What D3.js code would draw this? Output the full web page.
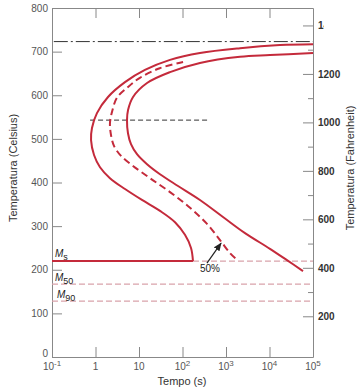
<!DOCTYPE html>
<html><head><meta charset="utf-8">
<script src="https://cdn.jsdelivr.net/npm/d3@7"></script>
<style>body{margin:0;background:#fff}svg{display:block}</style>
</head><body>
<svg id="c" width="358" height="388"></svg>
<script>
// ---- data ----
const timeTicks = [0.1, 1, 10, 100, 1000, 10000, 100000];
const timeTickLabels = [["10","-1"],["1",""],["10",""],["10","2"],["10","3"],["10","4"],["10","5"]];
const tempTicksC = [0,100,200,300,400,500,600,700,800];
const tempTicksF = [200,300,400,500,600,700,800,900,1000,1100,1200,1300,1400];
const tempTicksFLabels = ["200","","400","","600","","800","","1000","","1200","","1400"];
// [time (s), temperature (°C)]
const startCurve = [[100000,717],[17400,715],[2100,708],[252,697],[51.6,681],[13.7,658],[4.76,630],[1.94,596],[1.08,559],[0.83,525],[0.79,497],[0.925,463],[1.27,435],[2.15,410],[4.77,385],[11.7,360],[30.4,335],[67.3,309],[114,280],[157,250],[174,220]];
const finishCurve = [[100000,697],[10250,692],[2100,688],[252,674],[51.6,653],[15.3,628],[7.3,596],[5.6,566],[5.3,543],[5.58,513],[6.55,488],[9.0,465],[15.3,442],[30.4,419],[78.9,392],[252,360],[853,321],[2735,284],[10250,248],[25200,222],[58900,197]];
const halfCurve = [[103,676],[30,662],[10.5,640],[5.6,619],[3.1,594],[2.4,562],[2.15,536],[2.27,509],[2.66,484],[3.86,461],[7.28,438],[17.9,410],[51.6,378],[149,342],[366,305],[728,268],[1240,238],[1700,225]];
const A1 = 723;           // eutectoid line
const bainiteNose = 543;  // dashed reference line
const bainiteNoseRange = [0.75, 385];
const Ms = 220, M50 = 167, M90 = 128;
const MsEnd = 174;        // time where Ms solid line stops
const arrow50 = {from:[365,215], to:[770,261], label:[428,195], text:"50%"};

// ---- chart ----
const svg = d3.select("#c");
const L=52, R=313, T=8, B=357;
const x = d3.scaleLog().domain([0.1,1e5]).range([L,R]);
const y = d3.scaleLinear().domain([0,800]).range([B,T]);
const yF = d3.scaleLinear().domain([32,1472]).range([B,T]);
const font = "'Liberation Sans', Arial, sans-serif";
const red = "#c42a3b", pink = "#d9a3ab", axisCol = "#888";

const defs = svg.append("defs");
defs.append("marker").attr("id","ah").attr("viewBox","0 0 10 10")
  .attr("refX",9).attr("refY",5).attr("markerWidth",7).attr("markerHeight",7).attr("orient","auto")
  .append("path").attr("d","M0,1 L10,5 L0,9 Z").attr("fill","#222");
defs.append("clipPath").attr("id","clipRT").append("rect").attr("x",0).attr("y",-10).attr("width",11).attr("height",20);

// Axes
const gL = svg.append("g").attr("transform",`translate(${L},0)`)
  .call(d3.axisLeft(y).tickValues(tempTicksC).tickSize(-10).tickPadding(4).tickSizeOuter(0));
const gB = svg.append("g").attr("transform",`translate(0,${B})`)
  .call(d3.axisBottom(x).tickValues(timeTicks.slice(1,-1)).tickSize(-10).tickSizeOuter(0).tickFormat(""));
const gT = svg.append("g").attr("transform",`translate(0,${T})`)
  .call(d3.axisTop(x).tickValues(timeTicks.slice(1,-1)).tickSize(-10).tickSizeOuter(0).tickFormat(""));
const gR = svg.append("g").attr("transform",`translate(${R},0)`)
  .call(d3.axisRight(yF).tickValues(tempTicksF).tickSize(-10).tickPadding(5).tickSizeOuter(0)
    .tickFormat((d,i)=>tempTicksFLabels[i]));
gR.selectAll(".tick").filter((d,i)=>tempTicksFLabels[i]==="").select("line").attr("x2",-5);
[gL,gB,gT,gR].forEach(g=>{
  g.selectAll("path.domain").attr("stroke",axisCol);
  g.selectAll(".tick line").attr("stroke",axisCol);
});
gL.selectAll("text").attr("font-family",font).attr("font-size",10).attr("fill","#555");
gL.selectAll(".tick").filter(d=>d===0).select("text").attr("dy","-0.1em");
gR.selectAll("text").attr("font-family",font).attr("font-size",10).attr("fill","#333").attr("font-weight","bold");
gR.selectAll(".tick").filter(d=>d===1400).select("text").attr("clip-path","url(#clipRT)");

// x tick labels with superscripts
const xl = svg.append("g").attr("font-family",font).attr("font-size",10).attr("fill","#555");
timeTicks.forEach((t,i)=>{
  const [b,e] = timeTickLabels[i];
  const tx = xl.append("text").attr("x",x(t)).attr("y",B+13).attr("text-anchor","middle");
  tx.append("tspan").text(b);
  if(e) tx.append("tspan").attr("dy",-4).attr("font-size",8).text(e);
});

// axis titles
svg.append("text").attr("x",182).attr("y",385).attr("text-anchor","middle")
  .attr("font-family",font).attr("font-size",11).attr("fill","#333").text("Tempo (s)");
svg.append("text").attr("transform","translate(17,168) rotate(-90)").attr("text-anchor","middle")
  .attr("font-family",font).attr("font-size",11).attr("fill","#333").text("Temperatura (Celsius)");
svg.append("text").attr("transform","translate(354,168) rotate(-90)").attr("text-anchor","middle")
  .attr("font-family",font).attr("font-size",11).attr("fill","#333").text("Temperatura (Fahrenheit)");

// horizontal reference lines
svg.append("line").attr("x1",x(0.11)).attr("x2",R).attr("y1",y(A1)).attr("y2",y(A1))
  .attr("stroke","#333").attr("stroke-width",1).attr("stroke-dasharray","14,3,2,3");
svg.append("line").attr("x1",x(bainiteNoseRange[0])).attr("x2",x(bainiteNoseRange[1]))
  .attr("y1",y(bainiteNose)).attr("y2",y(bainiteNose))
  .attr("stroke","#333").attr("stroke-width",1).attr("stroke-dasharray","5,3");
svg.append("line").attr("x1",x(MsEnd)).attr("x2",R).attr("y1",y(Ms)).attr("y2",y(Ms))
  .attr("stroke",pink).attr("stroke-width",1.2).attr("stroke-dasharray","6,3");
[M50,M90].forEach(m=>svg.append("line").attr("x1",L).attr("x2",R).attr("y1",y(m)).attr("y2",y(m))
  .attr("stroke",pink).attr("stroke-width",1.2).attr("stroke-dasharray","6,3"));
svg.append("line").attr("x1",L).attr("x2",x(MsEnd)).attr("y1",y(Ms)).attr("y2",y(Ms))
  .attr("stroke",red).attr("stroke-width",2);

// curves
const line = d3.line().x(d=>x(d[0])).y(d=>y(d[1])).curve(d3.curveCatmullRom.alpha(0.5));
svg.append("path").attr("d",line(startCurve)).attr("fill","none").attr("stroke",red).attr("stroke-width",2);
svg.append("path").attr("d",line(finishCurve)).attr("fill","none").attr("stroke",red).attr("stroke-width",2);
svg.append("path").attr("d",line(halfCurve)).attr("fill","none").attr("stroke",red).attr("stroke-width",2)
  .attr("stroke-dasharray","7,4");

// M labels
const ml = svg.append("g").attr("font-family",font).attr("font-size",10).attr("font-style","italic").attr("fill","#222");
[["M","s",Ms,4,0],["M","50",M50,3,0],["M","90",M90,3,2]].forEach(([a,s,v,up,dx])=>{
  const t = ml.append("text").attr("x",L+3+dx).attr("y",y(v)-up);
  t.append("tspan").text(a);
  t.append("tspan").attr("dy",3).attr("font-size",9).attr("font-style","normal").text(s);
});

// 50% annotation
svg.append("line").attr("x1",x(arrow50.from[0])).attr("y1",y(arrow50.from[1]))
  .attr("x2",x(arrow50.to[0])).attr("y2",y(arrow50.to[1]))
  .attr("stroke","#222").attr("stroke-width",1.2).attr("marker-end","url(#ah)");
svg.append("text").attr("x",x(arrow50.label[0])).attr("y",y(arrow50.label[1])).attr("text-anchor","middle")
  .attr("font-family",font).attr("font-size",10).attr("fill","#222").text(arrow50.text);
</script>
</body></html>
